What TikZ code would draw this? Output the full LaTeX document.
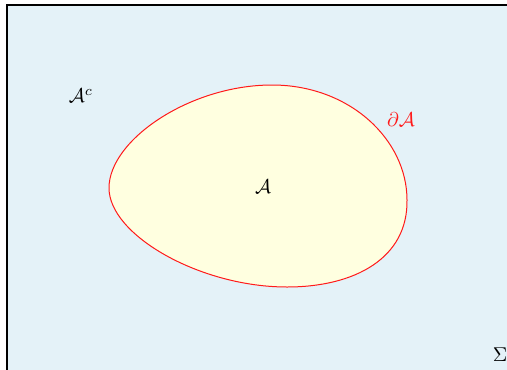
\documentclass[tikz,border=0pt]{standalone}
\usepackage{amsmath,amssymb}
\usepackage{xcolor}
\usepackage{tikz}
\usetikzlibrary{positioning}
\definecolor{space}{HTML}{E4F2F8}
\definecolor{region}{HTML}{FFFFE0}
\definecolor{bdry}{HTML}{FF1A1A}

\begin{document}
\begin{tikzpicture}[
  x=0.5pt, y=-0.5pt,
  lbl/.style={inner sep=1pt, font=\normalsize}]
\useasboundingbox (0,0) rectangle (507,369);
\clip (0,0) rectangle (507,369);
\draw[fill=space, line width=0.6pt] (7,5) rectangle (520,380);
% the set A and its boundary
\draw[bdry, fill=region, line width=0.5pt]
  (109,188) .. controls (109,140) and (190,85) .. (272,85)
  .. controls (350,85) and (407,140) .. (407,200)
  .. controls (408,258) and (355,287) .. (287,287)
  .. controls (200,287) and (109,235) .. cycle;
\node[lbl] (A) at (263,187) {$\mathcal{A}$};
\node[lbl] (Ac) at (81,96) {$\mathcal{A}^c$};
\node[lbl, text=bdry] (dA) at (401,120) {$\partial\mathcal{A}$};
\node[lbl] (Sigma) at (500,355) {$\Sigma$};
\end{tikzpicture}
\end{document}
